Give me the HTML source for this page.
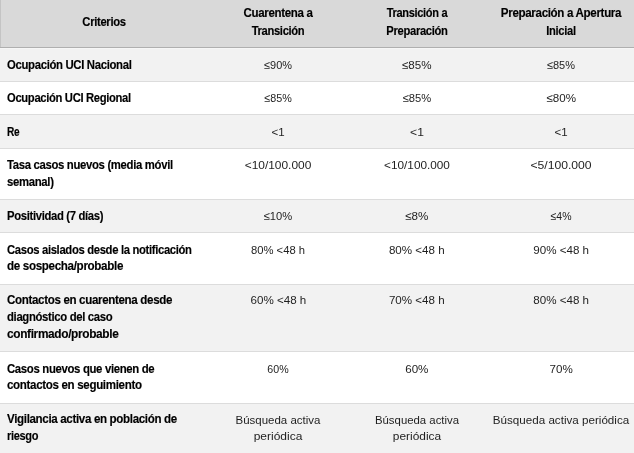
<!DOCTYPE html>
<html lang="es">
<head>
<meta charset="utf-8">
<title>Criterios</title>
<style>
html,body{margin:0;padding:0;background:#fff;}
body{width:634px;height:453px;overflow:hidden;position:relative;font-family:"Liberation Sans",Arial,sans-serif;filter:grayscale(1) blur(0.3px);}
.bg{position:absolute;left:0;width:634px;}
.ln{position:absolute;left:0;width:634px;height:1px;background:#dcdcdc;}
.t{position:absolute;white-space:nowrap;line-height:17px;}
.b,.h{font-weight:bold;font-size:12.0px;color:#000;letter-spacing:-0.35px;-webkit-text-stroke:0.15px #000;}
.b{left:6.8px;transform-origin:0 0;}
.h{text-align:center;width:200px;}
.d{font-size:11.6px;color:#1e1e1e;text-align:center;width:200px;letter-spacing:0.0px;}
</style>
</head>
<body>
<div class="bg" style="top:0;height:47px;background:#d9d9d9"></div>
<div class="bg" style="top:0;height:47px;width:1px;background:#c4c4c4"></div>
<div class="ln" style="top:47px;background:#afafaf"></div>
<div class="bg" style="top:48px;height:33px;background:#f2f2f2"></div>
<div class="bg" style="top:48px;height:1px;background:#f6f6f6"></div>
<div class="ln" style="top:81px"></div>
<div class="bg" style="top:115px;height:33px;background:#f2f2f2"></div>
<div class="ln" style="top:114px"></div>
<div class="ln" style="top:148px"></div>
<div class="bg" style="top:200px;height:32px;background:#f2f2f2"></div>
<div class="ln" style="top:199px"></div>
<div class="ln" style="top:232px"></div>
<div class="bg" style="top:285px;height:66px;background:#f2f2f2"></div>
<div class="ln" style="top:284px"></div>
<div class="ln" style="top:351px"></div>
<div class="bg" style="top:404px;height:49px;background:#f2f2f2"></div>
<div class="ln" style="top:403px"></div>
<div class="t h" style="left:4px;top:14px;transform:scaleX(0.9376)">Criterios</div>
<div class="t h" style="left:178.4px;top:5px;transform:scaleX(0.9598)">Cuarentena a</div>
<div class="t h" style="left:178.4px;top:23px;transform:scaleX(0.9327)">Transición</div>
<div class="t h" style="left:316.8px;top:5px;transform:scaleX(0.9203)">Transición a</div>
<div class="t h" style="left:316.8px;top:23px;transform:scaleX(0.9349)">Preparación</div>
<div class="t h" style="left:461.2px;top:5px;transform:scaleX(0.9660)">Preparación a Apertura</div>
<div class="t h" style="left:461.2px;top:23px;transform:scaleX(0.9311)">Inicial</div>
<div class="t b" style="top:57px;transform:scaleX(0.9455)">Ocupación UCI Nacional</div>
<div class="t b" style="top:90px;transform:scaleX(0.9357)">Ocupación UCI Regional</div>
<div class="t b" style="top:124px;transform:scaleX(0.8425)">Re</div>
<div class="t b" style="top:157px;transform:scaleX(0.9455)">Tasa casos nuevos (media móvil</div>
<div class="t b" style="top:174px;transform:scaleX(0.9462)">semanal)</div>
<div class="t b" style="top:208px;transform:scaleX(0.9394)">Positividad (7 días)</div>
<div class="t b" style="top:242px;transform:scaleX(0.9383)">Casos aislados desde la notificación</div>
<div class="t b" style="top:258px;transform:scaleX(0.9692)">de sospecha/probable</div>
<div class="t b" style="top:292px;transform:scaleX(0.9640)">Contactos en cuarentena desde</div>
<div class="t b" style="top:309px;transform:scaleX(0.9429)">diagnóstico del caso</div>
<div class="t b" style="top:326px;transform:scaleX(0.9887)">confirmado/probable</div>
<div class="t b" style="top:361px;transform:scaleX(0.9468)">Casos nuevos que vienen de</div>
<div class="t b" style="top:377px;transform:scaleX(0.9643)">contactos en seguimiento</div>
<div class="t b" style="top:411px;transform:scaleX(0.9636)">Vigilancia activa en población de</div>
<div class="t b" style="top:428px;transform:scaleX(0.9186)">riesgo</div>
<div class="t d" style="left:178.4px;top:56px;transform:scaleX(0.9434)">≤90%</div>
<div class="t d" style="left:316.8px;top:56px">≤85%</div>
<div class="t d" style="left:461.2px;top:56px;transform:scaleX(0.9479)">≤85%</div>
<div class="t d" style="left:178.4px;top:89px;transform:scaleX(0.9283)">≤85%</div>
<div class="t d" style="left:316.8px;top:89px;transform:scaleX(0.9637)">≤85%</div>
<div class="t d" style="left:461.2px;top:89px">≤80%</div>
<div class="t d" style="left:178.4px;top:123px;transform:scaleX(0.9941)">&lt;1</div>
<div class="t d" style="left:316.8px;top:123px;transform:scaleX(1.0433)">&lt;1</div>
<div class="t d" style="left:461.2px;top:123px;transform:scaleX(0.9922)">&lt;1</div>
<div class="t d" style="left:178.4px;top:156px;transform:scaleX(1.0278)">&lt;10/100.000</div>
<div class="t d" style="left:316.8px;top:156px;transform:scaleX(1.0159)">&lt;10/100.000</div>
<div class="t d" style="left:461.2px;top:156px;transform:scaleX(1.0484)">&lt;5/100.000</div>
<div class="t d" style="left:178.4px;top:207px;transform:scaleX(0.9637)">≤10%</div>
<div class="t d" style="left:316.8px;top:207px">≤8%</div>
<div class="t d" style="left:461.2px;top:207px;transform:scaleX(0.9053)">≤4%</div>
<div class="t d" style="left:178.4px;top:241px;transform:scaleX(0.9697)">80% &lt;48 h</div>
<div class="t d" style="left:316.8px;top:241px">80% &lt;48 h</div>
<div class="t d" style="left:461.2px;top:241px">90% &lt;48 h</div>
<div class="t d" style="left:178.4px;top:291px">60% &lt;48 h</div>
<div class="t d" style="left:316.8px;top:291px">70% &lt;48 h</div>
<div class="t d" style="left:461.2px;top:291px">80% &lt;48 h</div>
<div class="t d" style="left:178.4px;top:360px;transform:scaleX(0.9179)">60%</div>
<div class="t d" style="left:316.8px;top:360px">60%</div>
<div class="t d" style="left:461.2px;top:360px">70%</div>
<div class="t d" style="left:178.4px;top:411px;transform:scaleX(0.9896)">Búsqueda activa</div>
<div class="t d" style="left:316.8px;top:411px;transform:scaleX(0.9802)">Búsqueda activa</div>
<div class="t d" style="left:461.2px;top:411px;transform:scaleX(1.0030)">Búsqueda activa periódica</div>
<div class="t d" style="left:178.4px;top:427px;transform:scaleX(1.0341)">periódica</div>
<div class="t d" style="left:316.8px;top:427px;transform:scaleX(1.0266)">periódica</div>
</body>
</html>
